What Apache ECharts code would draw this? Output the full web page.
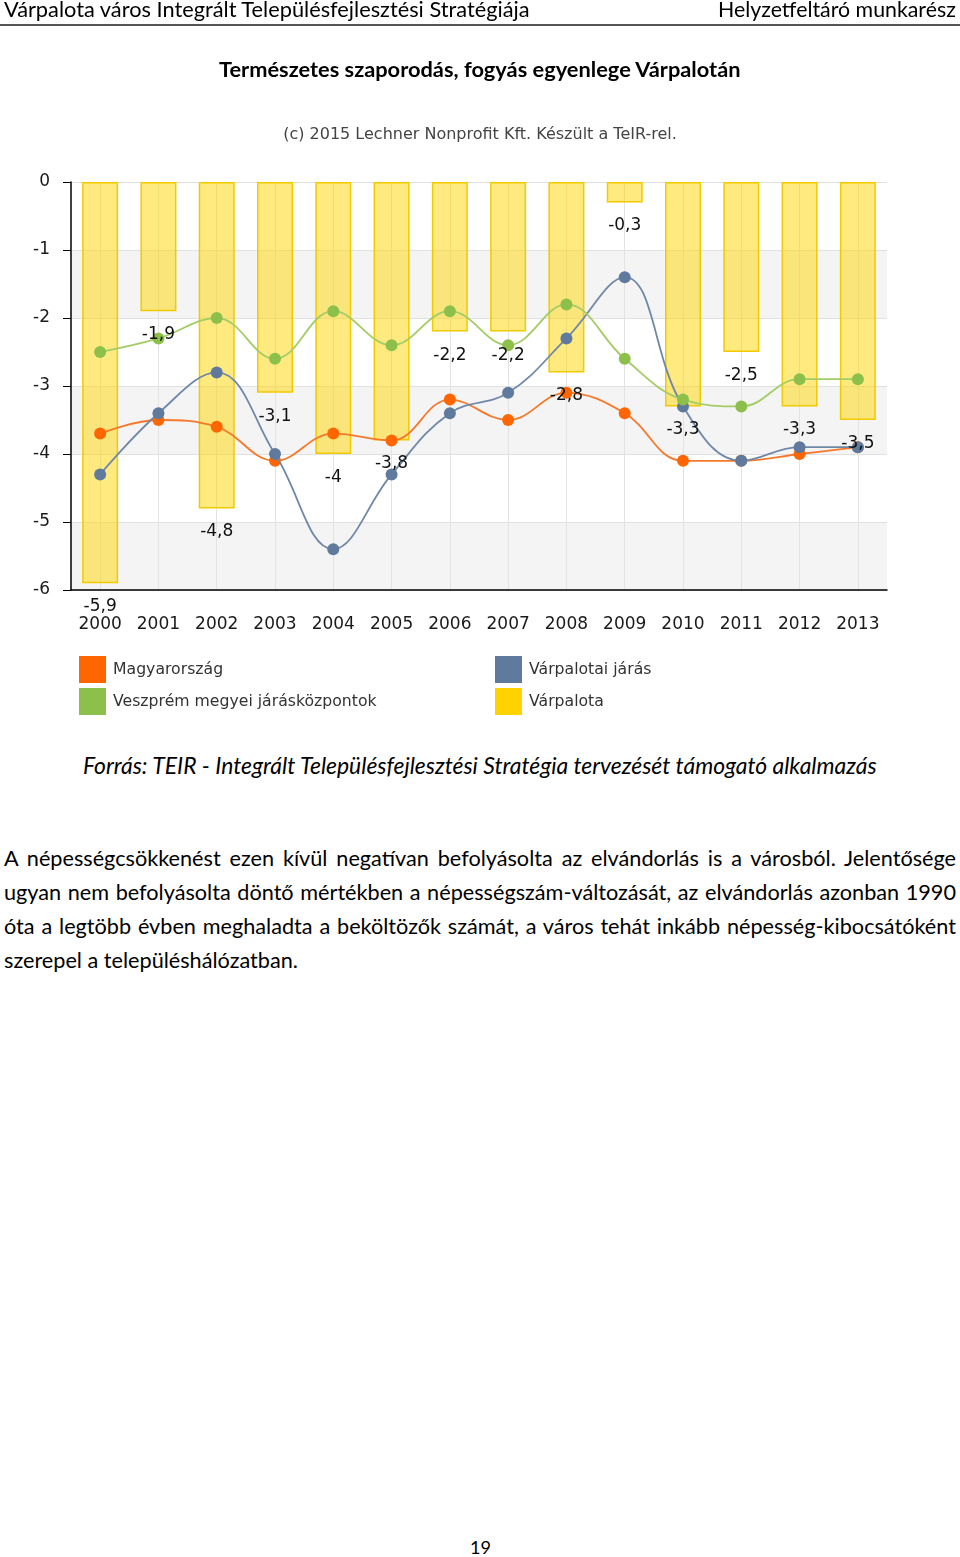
<!DOCTYPE html>
<html><head><meta charset="utf-8">
<script src="https://cdn.jsdelivr.net/npm/echarts@6/dist/echarts.min.js"></script>
<style>
html,body{margin:0;padding:0;background:#fff;}
body{width:960px;height:1557px;position:relative;overflow:hidden;font-family:Lato,"Open Sans",sans-serif;color:#000;}
#chart{position:absolute;left:0;top:0;width:960px;height:740px;}
.t{position:absolute;white-space:nowrap;line-height:1;transform:translateY(-50%);}
#hline{position:absolute;left:0;top:24px;width:960px;height:2px;background:#555;}
.pl{position:absolute;left:4px;width:952px;text-align:justify;text-align-last:justify;line-height:1;transform:translateY(-50%);}
.pl.last{text-align:left;text-align-last:left;}
</style></head>
<body>
<div id="chart"></div>
<div id="hline"></div>
<div class="t" id="hl" style="left:4px;top:10px;font-size:22px">Várpalota város Integrált Településfejlesztési Stratégiája</div>
<div class="t" id="hr" style="left:718px;top:10px;font-size:22px">Helyzetfeltáró munkarész</div>
<div class="t" id="ti" style="left:219px;top:69px;font-size:20px;font-weight:bold">Természetes szaporodás, fogyás egyenlege Várpalotán</div>
<div class="t" id="src" style="left:83px;top:765px;font-size:21px;font-style:italic">Forrás: TEIR - Integrált Településfejlesztési Stratégia tervezését támogató alkalmazás</div>
<div class="pl" id="p1" style="top:859px;font-size:20px">A népességcsökkenést ezen kívül negatívan befolyásolta az elvándorlás is a városból. Jelentősége</div>
<div class="pl" id="p2" style="top:893px;font-size:20px">ugyan nem befolyásolta döntő mértékben a népességszám-változását, az elvándorlás azonban 1990</div>
<div class="pl" id="p3" style="top:927px;font-size:20px">óta a legtöbb évben meghaladta a beköltözők számát, a város tehát inkább népesség-kibocsátóként</div>
<div class="pl last" id="p4" style="top:961px;font-size:20px"><span id="p4s">szerepel a településhálózatban.</span></div>
<div class="t" id="pn" style="left:470px;top:1547px;font-size:20px">19</div>
<script>
const years = ['2000','2001','2002','2003','2004','2005','2006','2007','2008','2009','2010','2011','2012','2013'];
const varpalota = [-5.9,-1.9,-4.8,-3.1,-4,-3.8,-2.2,-2.2,-2.8,-0.3,-3.3,-2.5,-3.3,-3.5];
const magyarorszag = [-3.7,-3.5,-3.6,-4.1,-3.7,-3.8,-3.2,-3.5,-3.1,-3.4,-4.1,-4.1,-4.0,-3.9];
const varpalotaiJaras = [-4.3,-3.4,-2.8,-4.0,-5.4,-4.3,-3.4,-3.1,-2.3,-1.4,-3.3,-4.1,-3.9,-3.9];
const veszpremJk = [-2.5,-2.3,-2.0,-2.6,-1.9,-2.4,-1.9,-2.4,-1.8,-2.6,-3.2,-3.3,-2.9,-2.9];

const F = 'DejaVu Sans';
const fmt = v => String(v).replace('.', ',');
const chart = echarts.init(document.getElementById('chart'));
chart.setOption({
  animation: false,
  textStyle: {fontFamily: F},
  title: {text: '(c) 2015 Lechner Nonprofit Kft. Készült a TeIR-rel.', left: 'center', top: 127, padding: 0,
    textStyle: {fontSize: 16, fontWeight: 'normal', color: '#444', fontFamily: F}},
  legend: [
    {orient: 'vertical', left: 79, top: 656, padding: 0, itemWidth: 27, itemHeight: 27, itemGap: 5, icon: 'rect',
      textStyle: {fontSize: 15.7, color: '#333', fontFamily: F, padding: [0, 0, 0, 2]},
      data: [{name: 'Magyarország', itemStyle: {color: '#FF6600'}}, {name: 'Veszprém megyei járásközpontok', itemStyle: {color: '#8DC04B'}}]},
    {orient: 'vertical', left: 495, top: 656, padding: 0, itemWidth: 27, itemHeight: 27, itemGap: 5, icon: 'rect',
      textStyle: {fontSize: 15.7, color: '#333', fontFamily: F, padding: [0, 0, 0, 2]},
      data: [{name: 'Várpalotai járás', itemStyle: {color: '#5F7A9C'}}, {name: 'Várpalota', itemStyle: {color: '#FFD200', borderWidth: 0}}]}
  ],
  grid: {left: 71, right: 73, top: 182, bottom: 150},
  xAxis: {type: 'category', data: years,
    axisLine: {onZero: false, lineStyle: {color: '#000', width: 1.5}},
    axisTick: {alignWithLabel: true, length: 7, lineStyle: {color: '#000'}},
    axisLabel: {fontSize: 17, color: '#1a1a1a', margin: 26, fontFamily: F},
    splitLine: {show: true, alignWithLabel: true, lineStyle: {color: '#e3e3e3'}}},
  yAxis: {type: 'value', min: -6, max: 0, interval: 1,
    axisLine: {show: true, lineStyle: {color: '#000', width: 1.5}},
    axisTick: {show: true, length: 8, lineStyle: {color: '#000'}},
    axisLabel: {fontSize: 17, color: '#1a1a1a', margin: 21, fontFamily: F},
    splitLine: {lineStyle: {color: '#e0e0e0'}},
    splitArea: {show: true, areaStyle: {color: ['#F4F4F4', '#FFFFFF']}}},
  series: [
    {name: 'Várpalota', type: 'bar', data: varpalota, barWidth: 36, z: 2,
      itemStyle: {color: 'rgba(255,213,0,0.5)', borderColor: '#F2CA00', borderWidth: 1.5}},
    {name: 'Magyarország', type: 'line', data: magyarorszag, smooth: 0.4, symbol: 'circle', symbolSize: 12, z: 3,
      lineStyle: {width: 1.8, color: '#F7782A'}, itemStyle: {color: '#FF6600'}},
    {name: 'Várpalotai járás', type: 'line', data: varpalotaiJaras, smooth: 0.4, symbol: 'circle', symbolSize: 12, z: 4,
      lineStyle: {width: 1.8, color: '#6F88A8'}, itemStyle: {color: '#5F7A9C'}},
    {name: 'Veszprém megyei járásközpontok', type: 'line', data: veszpremJk, smooth: 0.4, symbol: 'circle', symbolSize: 12, z: 5,
      lineStyle: {width: 1.8, color: '#A3CC66'}, itemStyle: {color: '#8DC04B'}},
    {name: 'Várpalota címkék', type: 'bar', data: varpalota, barWidth: 36, barGap: '-100%', z: 10, silent: true,
      itemStyle: {color: 'rgba(0,0,0,0)'},
      label: {show: true, position: 'bottom', distance: 15, fontSize: 17, color: '#111', fontFamily: F,
        formatter: p => fmt(p.value)}}
  ]
});

function fitWidth(el, w) {
  const r = el.getBoundingClientRect();
  const fs = parseFloat(getComputedStyle(el).fontSize);
  el.style.fontSize = (fs * w / r.width) + 'px';
}
document.fonts.ready.then(() => {
  fitWidth(document.getElementById('hl'), 526);
  fitWidth(document.getElementById('hr'), 238);
  fitWidth(document.getElementById('ti'), 522);
  fitWidth(document.getElementById('src'), 794);
  fitWidth(document.getElementById('pn'), 21);
  const s = document.getElementById('p4s');
  const fs = parseFloat(getComputedStyle(s).fontSize);
  const nf = fs * 294 / s.getBoundingClientRect().width;
  ['p1','p2','p3','p4'].forEach(id => document.getElementById(id).style.fontSize = nf + 'px');
});
</script>
</body></html>
